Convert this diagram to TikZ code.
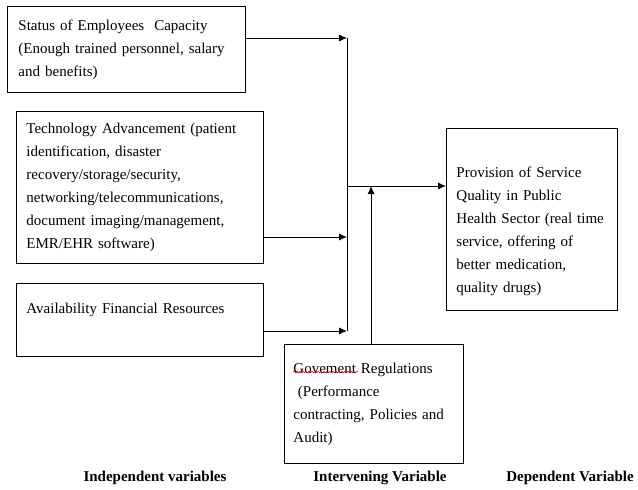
\documentclass[tikz,border=0pt]{standalone}
\usepackage{fontspec}
\setmainfont{Liberation Serif}
\usetikzlibrary{arrows.meta,positioning,decorations.pathmorphing}

\begin{document}
\begin{tikzpicture}[x=1pt,y=-1pt,line width=0.9pt,
   box/.style={draw,anchor=north west,align=left,inner ysep=0pt,font=\fontsize{15}{23}\selectfont},
   arr/.style={-{Latex[length=8pt,width=7pt]}},
   lbl/.style={draw=none,font=\fontsize{15}{18}\selectfont\bfseries}]

   \useasboundingbox (0,0) rectangle (638,490);

   \node[box,minimum width=238pt,minimum height=86pt,inner xsep=11pt,text width=216pt] (emp) at (7,6)
      {Status of Employees~ Capacity\\(Enough trained personnel, salary\\and benefits)};
   \node[box,minimum width=247pt,minimum height=152pt,inner xsep=10pt,text width=227pt] (tech) at (16,111)
      {Technology Advancement (patient\\identification, disaster\\recovery/storage/security,\\networking/telecommunications,\\document imaging/management,\\EMR/EHR software)};
   \node[box,minimum width=247pt,minimum height=73pt,inner xsep=10pt,text width=227pt] (fin) at (16,283)
      {Availability Financial Resources\\\mbox{}};
   \node[box,minimum width=179pt,minimum height=119pt,inner xsep=9pt,text width=161pt] (gov) at (284,344)
      {Govement Regulations\\\hspace{0.3em}(Performance\\contracting, Policies and\\Audit)};
   \node[box,minimum width=171pt,minimum height=182pt,inner xsep=10pt,text width=151pt] (dep) at (446,128)
      {\mbox{}\\[12pt]Provision of Service\\Quality in Public\\Health Sector (real time\\service, offering of\\better medication,\\quality drugs)};

   \draw[red,line width=0.5pt,decorate,decoration={snake,amplitude=0.8pt,segment length=3pt}] (293,372) -- (358,372);

   \coordinate (jtop) at (347,38);
   \coordinate (jmid) at (347,237);
   \coordinate (jlow) at (347,331);
   \coordinate (jout) at (347,186);
   \coordinate (jgov) at (371,186);

   \draw[arr] (emp.east |- jtop) -- (jtop);
   \draw[arr] (tech.east |- jmid) -- (jmid);
   \draw[arr] (fin.east |- jlow) -- (jlow);
   \draw (jtop) -- (jlow);
   \draw[arr] (jout) -- (dep.west |- jout);
   \draw[arr] (gov.north -| jgov) -- (jgov);

   \node[lbl] (indep) at (155,478) {Independent variables};
   \node[lbl] (interv) at (380,478) {Intervening Variable};
   \node[lbl] (depv) at (570,478) {Dependent Variable};

\end{tikzpicture}
\end{document}
